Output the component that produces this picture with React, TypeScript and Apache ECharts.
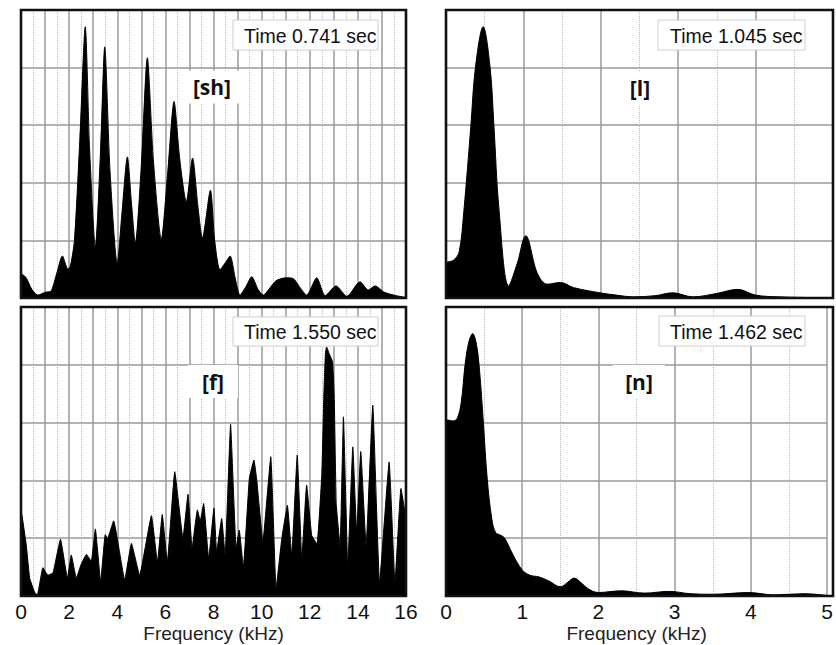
import React, { useEffect, useRef } from "react";
import * as echarts from "echarts";

// [kHz, relative level (0..5 grid units)]
const shSpectrum: number[][] = [
  [0, 0.42], [0.2, 0.36], [0.45, 0.15], [0.7, 0.05], [1.0, 0.1], [1.25, 0.12], [1.5, 0.45],
  [1.72, 0.73], [1.95, 0.5], [2.05, 0.55], [2.22, 1.0], [2.45, 2.8], [2.67, 4.71], [2.85, 2.6],
  [3.09, 0.89], [3.3, 2.5], [3.48, 4.36], [3.7, 2.2], [4.0, 0.6], [4.2, 1.5], [4.42, 2.45],
  [4.6, 1.6], [4.75, 0.95], [5.0, 2.3], [5.25, 4.17], [5.5, 2.4], [5.83, 1.02], [6.1, 2.2],
  [6.36, 3.41], [6.6, 2.4], [6.87, 1.67], [7.13, 2.43], [7.35, 1.6], [7.54, 1.04], [7.87, 1.87],
  [8.05, 1.0], [8.27, 0.49], [8.5, 0.62], [8.69, 0.73], [8.9, 0.35], [9.1, 0.05], [9.35, 0.2],
  [9.59, 0.37], [9.85, 0.15], [10.07, 0.05], [10.3, 0.15], [10.6, 0.3], [11.0, 0.35],
  [11.3, 0.34], [11.6, 0.18], [11.87, 0.05], [12.29, 0.35], [12.64, 0.04], [13.09, 0.21],
  [13.54, 0.03], [14.09, 0.28], [14.43, 0.14], [14.71, 0.21], [15.1, 0.1], [15.6, 0.04], [16, 0.01],
];

const lSpectrum: number[][] = [
  [0, 0.62], [0.1, 0.66], [0.17, 0.8], [0.23, 1.5], [0.32, 2.97], [0.38, 4.0], [0.48, 4.71],
  [0.57, 4.0], [0.62, 2.97], [0.685, 1.53], [0.81, 0.21], [0.92, 0.6], [1.03, 1.08],
  [1.18, 0.43], [1.31, 0.24], [1.48, 0.27], [1.65, 0.18], [1.99, 0.09], [2.2, 0.05],
  [2.42, 0.02], [2.7, 0.04], [2.93, 0.09], [3.19, 0.02], [3.5, 0.08], [3.77, 0.15],
  [4.0, 0.05], [4.3, 0.02], [4.6, 0.01], [5, 0],
];

const fSpectrum: number[][] = [
  [0, 1.45], [0.04, 1.4], [0.22, 0.88], [0.36, 0.31], [0.57, 0.06], [0.68, 0.02], [0.91, 0.49],
  [1.12, 0.36], [1.33, 0.4], [1.64, 0.98], [1.93, 0.31], [2.09, 0.71], [2.3, 0.31], [2.5, 0.55],
  [2.72, 0.72], [2.92, 0.6], [3.09, 1.16], [3.31, 0.25], [3.5, 1.06], [3.6, 1.0], [3.85, 1.3],
  [4.31, 0.28], [4.59, 0.91], [4.93, 0.36], [5.42, 1.39], [5.67, 0.59], [5.87, 1.41],
  [6.08, 0.59], [6.39, 2.15], [6.73, 1.0], [6.94, 1.76], [7.11, 0.83], [7.33, 1.49],
  [7.45, 1.3], [7.59, 1.6], [7.8, 0.65], [8.02, 1.52], [8.13, 0.77], [8.34, 1.34], [8.48, 0.71],
  [8.71, 2.97], [8.94, 0.83], [9.07, 1.14], [9.24, 0.5], [9.49, 2.04], [9.68, 2.35], [9.8, 2.0],
  [10.05, 0.94], [10.38, 2.41], [10.6, 0.13], [10.84, 1.0], [11.07, 1.57], [11.25, 0.71],
  [11.48, 2.44], [11.67, 0.65], [11.87, 1.92], [12.08, 1.05], [12.3, 0.9], [12.5, 2.1],
  [12.58, 3.4], [12.65, 4.2], [12.7, 4.31], [12.8, 4.2], [12.95, 4.05], [13.02, 3.4],
  [13.1, 1.6], [13.26, 0.87], [13.4, 3.1], [13.58, 0.52], [13.79, 2.58], [13.95, 1.11],
  [14.12, 2.5], [14.34, 0.87], [14.62, 3.3], [14.9, 0.23], [15.3, 2.32], [15.54, 0.23],
  [15.79, 1.86], [15.96, 1.45], [16, 1.3],
];

const nSpectrum: number[][] = [
  [0, 3.05], [0.1, 3.03], [0.15, 3.08], [0.2, 3.35], [0.25, 4.0], [0.3, 4.4], [0.35, 4.54],
  [0.4, 4.35], [0.44, 3.9], [0.49, 3.0], [0.54, 2.04], [0.6, 1.34], [0.65, 1.1], [0.72, 1.05],
  [0.77, 1.0], [0.88, 0.71], [1.0, 0.45], [1.1, 0.36], [1.22, 0.33], [1.35, 0.26], [1.5, 0.16],
  [1.6, 0.24], [1.68, 0.31], [1.78, 0.22], [1.87, 0.12], [2.0, 0.06], [2.3, 0.09], [2.6, 0.05],
  [2.93, 0.08], [3.2, 0.04], [3.5, 0.03], [3.97, 0.06], [4.3, 0.02], [4.7, 0.04], [5, 0.01],
];

const panelMaxKHz = [16, 5, 16, 5];
const panelLabelStep = [2, 1, 2, 1];
const panelSpectra = [shSpectrum, lSpectrum, fSpectrum, nSpectrum];
const panelSmooth = [0.25, 0.35, 0.1, 0.35];
const timeLabels = ["Time 0.741 sec", "Time 1.045 sec", "Time 1.550 sec", "Time 1.462 sec"];
const phonemeLabels = ["[sh]", "[l]", "[f]", "[n]"];
const xAxisTitle = "Frequency (kHz)";

const grids = [
  { left: 21, top: 10, width: 385, height: 288 },
  { left: 446, top: 10, width: 387, height: 288 },
  { left: 21, top: 307, width: 385, height: 289 },
  { left: 446, top: 307, width: 387, height: 289 },
];

const timeBoxes = [
  { x: 233, y: 20, w: 145, h: 30, tx: 244, ty: 35.5 },
  { x: 658, y: 20, w: 147, h: 30, tx: 670, ty: 35.5 },
  { x: 233, y: 317, w: 145, h: 29, tx: 244, ty: 331.5 },
  { x: 659, y: 316, w: 146, h: 30, tx: 670, ty: 331.5 },
];

const phonemePos = [
  { x: 212, y: 87, w: 64 },
  { x: 640, y: 88, w: 44 },
  { x: 213, y: 381.5, w: 50 },
  { x: 639, y: 381.5, w: 52 },
];

const SANS = '"Liberation Sans", Arial, Helvetica, sans-serif';

export default function App() {
  const ref = useRef<HTMLDivElement>(null);
  useEffect(() => {
    if (!ref.current) return;
    const chart = echarts.init(ref.current, undefined, { renderer: "svg" });

    const graphic: any[] = [];
    grids.forEach((g) => {
      graphic.push({
        type: "rect",
        z: 90,
        silent: true,
        shape: { x: g.left, y: g.top, width: g.width, height: g.height },
        style: { fill: "none", stroke: "#111", lineWidth: 2.6 },
      });
    });
    timeBoxes.forEach((b, i) => {
      graphic.push({
        type: "rect",
        z: 100,
        shape: { x: b.x, y: b.y, width: b.w, height: b.h },
        style: { fill: "#fff", stroke: "#cfcfcf", lineWidth: 1 },
      });
      graphic.push({
        type: "text",
        z: 101,
        x: b.tx,
        y: b.ty,
        style: {
          text: timeLabels[i],
          fontSize: 19.5,
          fontFamily: SANS,
          fill: "#111",
          align: "left",
          verticalAlign: "middle",
        },
      });
    });
    phonemePos.forEach((p, i) => {
      graphic.push({
        type: "rect",
        z: 100,
        shape: { x: p.x - p.w / 2, y: p.y - 16.5, width: p.w, height: 33 },
        style: { fill: "#fff" },
      });
      graphic.push({
        type: "text",
        z: 101,
        x: p.x,
        y: p.y,
        style: {
          text: phonemeLabels[i],
          fontSize: 21,
          fontWeight: "bold",
          fontFamily: '"Open Sans", "Noto Sans", sans-serif',
          fill: "#111",
          align: "center",
          verticalAlign: "middle",
        },
      });
    });

    const option: any = {
      animation: false,
      backgroundColor: "#fff",
      grid: grids.map((g) => ({
        ...g,
        show: true,
        borderWidth: 0,
        backgroundColor: "#fff",
        containLabel: false,
      })),
      xAxis: grids.map((_, i) => ({
        type: "value",
        gridIndex: i,
        min: 0,
        max: panelMaxKHz[i],
        interval: 1,
        axisLine: { show: false },
        axisTick: { show: false },
        axisLabel: {
          show: i >= 2,
          fontSize: 21,
          fontFamily: SANS,
          color: "#111",
          margin: 5,
          showMinLabel: true,
          showMaxLabel: true,
          formatter: (v: number) => (Math.round(v) % panelLabelStep[i] === 0 ? String(Math.round(v)) : ""),
        },
        name: i >= 2 ? xAxisTitle : "",
        nameLocation: "middle",
        nameGap: 28,
        nameTextStyle: { fontSize: 19, fontFamily: SANS, color: "#222" },
        splitLine: { show: true, lineStyle: { color: "#9a9a9a", width: 1.5 } },
        minorTick: { show: false, splitNumber: 2 },
        minorSplitLine: {
          show: true,
          lineStyle: { color: "#bdbdbd", width: 1, type: "dotted" },
        },
      })),
      yAxis: grids.map((_, i) => ({
        type: "value",
        gridIndex: i,
        min: 0,
        max: 5,
        interval: 1,
        axisLine: { show: false },
        axisTick: { show: false },
        axisLabel: { show: false },
        splitLine: { show: true, lineStyle: { color: "#9a9a9a", width: 1.5 } },
      })),
      graphic,
      series: panelSpectra.map((d, i) => ({
        type: "line",
        xAxisIndex: i,
        yAxisIndex: i,
        data: d,
        showSymbol: false,
        symbol: "none",
        smooth: panelSmooth[i],
        lineStyle: { color: "#000", width: 1 },
        areaStyle: { color: "#000", opacity: 1 },
        silent: true,
        z: 3,
      })),
    };
    chart.setOption(option);
    return () => chart.dispose();
  }, []);
  return (
    <div
      ref={ref}
      style={{ position: "fixed", left: 0, top: 0, width: 836, height: 645, background: "#fff" }}
    />
  );
}
